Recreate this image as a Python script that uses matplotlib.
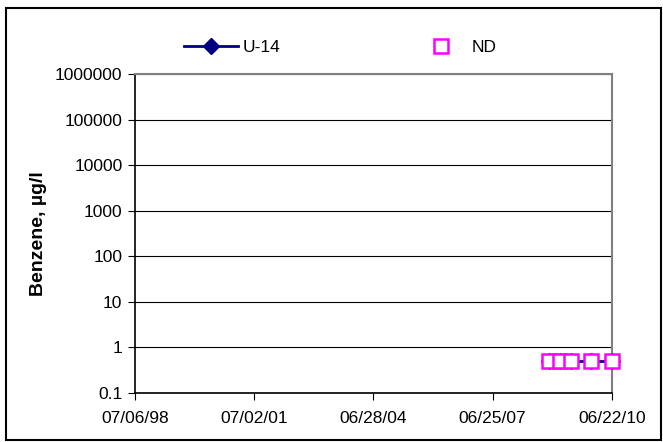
import matplotlib
matplotlib.use('Agg')
import matplotlib.pyplot as plt
import matplotlib.dates as mdates
from matplotlib.patches import Rectangle
import datetime as dt

plt.rcParams['font.family'] = ['Liberation Sans', 'DejaVu Sans']

# sample dates and benzene values (non-detects plotted at 0.5)
dates = ['2008-11-21', '2009-03-02', '2009-06-10', '2009-12-11', '2010-06-22']
u14 = [0.5, 0.5, 0.5, 0.5, 0.5]
nd = [0.5, 0.5, 0.5, 0.5, 0.5]
xticks = ['1998-07-06', '2001-07-02', '2004-06-28', '2007-06-25', '2010-06-22']
yticks = [0.1, 1, 10, 100, 1000, 10000, 100000, 1000000]

d = [dt.datetime.strptime(s, '%Y-%m-%d') for s in dates]
xt = [dt.datetime.strptime(s, '%Y-%m-%d') for s in xticks]

fig = plt.figure(figsize=(6.63, 4.42), dpi=100)
ax = fig.add_axes([135/663, 1-393/442, 477/663, 319/442])

ax.plot(d, u14, color='#000080', lw=2, marker='D', ms=8, label='U-14', zorder=3,
        clip_on=False)
ax.plot(d, nd, ls='none', marker='s', ms=10, mfc='white', mec='#FF00FF', mew=1.8,
        label='ND', zorder=4, clip_on=False)

ax.set_yscale('log')
ax.set_ylim(0.1, 1000000)
ax.set_yticks(yticks)
ax.set_yticklabels(['0.1', '1', '10', '100', '1000', '10000', '100000', '1000000'])
ax.minorticks_off()
ax.set_xlim(xt[0], xt[-1])
ax.set_xticks(xt)
ax.xaxis.set_major_formatter(mdates.DateFormatter('%m/%d/%y'))
ax.grid(axis='y', color='black', lw=0.8)
ax.set_axisbelow(True)
ax.tick_params(labelsize=12.5, direction='out', length=5, color='black')
ax.tick_params(axis='x', pad=8)
ax.tick_params(axis='y', pad=4)
for s in ['top', 'right']:
    ax.spines[s].set_color('#808080')
    ax.spines[s].set_linewidth(1.5)
for s in ['left', 'bottom']:
    ax.spines[s].set_color('black')
    ax.spines[s].set_linewidth(1.2)

ax.set_ylabel('Benzene, µg/l', fontsize=14, fontweight='bold', labelpad=6)

fig.legend(loc='center left', bbox_to_anchor=(184/663, 1-47/442), ncol=2, frameon=False,
           fontsize=12.5, columnspacing=7.7, handlelength=3.1, handletextpad=0.25,
           borderpad=0, borderaxespad=0)

fig.patches.append(Rectangle((6/663, 2/442), 655/663, 432/442, transform=fig.transFigure,
                             fill=False, ec='black', lw=1.5))

plt.savefig('out.png', dpi=100)
